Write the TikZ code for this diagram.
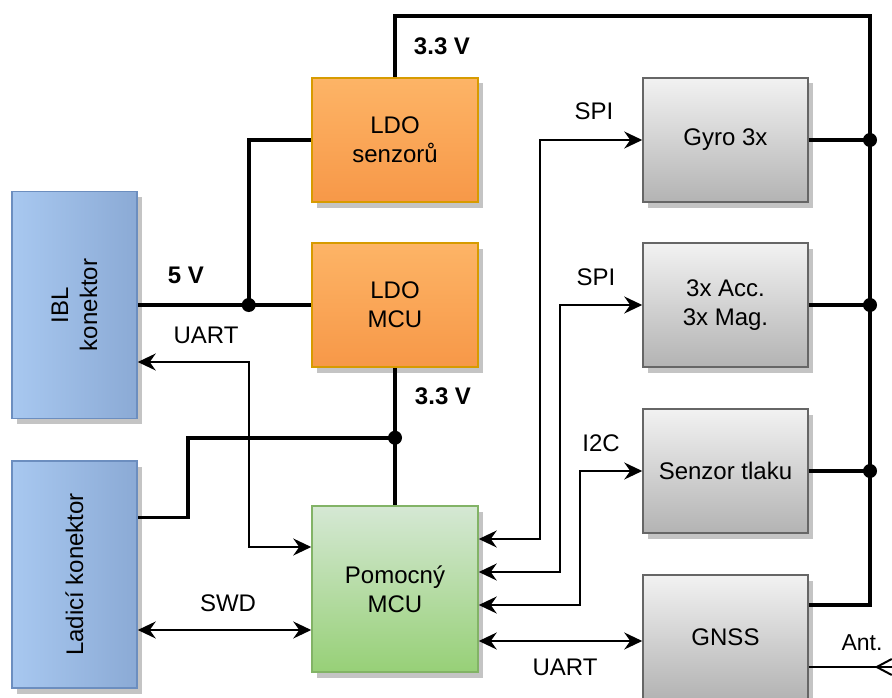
\documentclass[tikz,border=0pt]{standalone}
\usepackage{fontspec}
\setmainfont{Liberation Sans}
\usetikzlibrary{arrows.meta,shadows,calc}

\definecolor{shadowgrey}{HTML}{C4C4C4}
\definecolor{blueA}{HTML}{A8C8F0}
\definecolor{blueB}{HTML}{8BAAD5}
\definecolor{blueS}{HTML}{6C8EBF}
\definecolor{orangeA}{HTML}{FDB466}
\definecolor{orangeB}{HTML}{F79848}
\definecolor{orangeS}{HTML}{D79B00}
\definecolor{greenA}{HTML}{D5E8D4}
\definecolor{greenB}{HTML}{97D077}
\definecolor{greenS}{HTML}{82B366}
\definecolor{greyA}{HTML}{F2F2F2}
\definecolor{greyB}{HTML}{B3B3B3}
\definecolor{greyS}{HTML}{666666}

\begin{document}
\begin{tikzpicture}[x=1pt,y=-1pt,
  font=\fontsize{24}{29}\selectfont,
  >={Stealth[length=18pt,width=17pt,inset=6pt]},
  block/.style={draw, line width=1.5pt, inner sep=0pt, align=center,
    drop shadow={shadow xshift=4.5pt, shadow yshift=-5.5pt, fill=shadowgrey, opacity=1}},
  conn/.style={block, draw=blueS, left color=blueA, right color=blueB,
    minimum width=125pt, minimum height=227pt},
  ldo/.style={block, draw=orangeS, top color=orangeA, bottom color=orangeB,
    minimum width=166pt, minimum height=124pt},
  mcu/.style={block, draw=greenS, top color=greenA, bottom color=greenB,
    minimum width=166pt, minimum height=166pt},
  sensor/.style={block, draw=greyS, top color=greyA, bottom color=greyB,
    minimum width=165pt, minimum height=124pt},
  power/.style={draw, line width=3.5pt},
  sig/.style={draw, line width=2pt},
  dot/.style={fill=black},
  lbl/.style={anchor=base, inner sep=0pt},
]
\useasboundingbox (0,0) rectangle (892,698);
\clip (0,0) rectangle (892,698);

% blocks
\node[conn] (ibl) at (74.5,305) {};
\node[rotate=90, align=center] at (ibl.center) {IBL\\konektor};
\node[conn] (ladici) at (74.5,574.5) {};
\node[rotate=90] at (ladici.center) {Ladicí konektor};

\node[ldo] (ldos) at (395,140) {LDO\\senzorů};
\node[ldo] (ldom) at (395,305) {LDO\\MCU};
\node[mcu] (pm) at (395,589) {Pomocný\\MCU};

\node[sensor] (gyro) at (725.5,140) {Gyro 3x};
\node[sensor] (acc) at (725.5,305) {3x Acc.\\3x Mag.};
\node[sensor] (tlak) at (725.5,471) {Senzor tlaku};
\node[sensor] (gnss) at (725.5,637) {GNSS};

% power distribution
\coordinate (railtop) at (870,16);
\coordinate (gnssp) at ([yshift=32pt]gnss.east);
\draw[power] (ldos.north) |- (railtop) -- (railtop |- gnssp) -- (gnssp);
\draw[power] (gyro.east) -- (gyro.east -| railtop);
\draw[power] (acc.east) -- (acc.east -| railtop);
\draw[power] (tlak.east) -- (tlak.east -| railtop);
\fill[dot] (gyro.east -| railtop) circle (7pt);
\fill[dot] (acc.east -| railtop) circle (7pt);
\fill[dot] (tlak.east -| railtop) circle (7pt);

\coordinate (j5) at ([xshift=111pt]ibl.east);
\draw[power] (ibl.east) -- (ldom.west);
\draw[power] (j5) |- (ldos.west);
\fill[dot] (j5) circle (7pt);

\coordinate (j33) at ([yshift=-70pt]ldom.south);
\coordinate (jog) at ([xshift=-207pt]j33);
\draw[power] (ldom.south) -- (pm.north);
\draw[power] ([yshift=57pt]ladici.east) -| (jog) -- (j33);
\fill[dot] (j33) circle (7pt);

% signal buses
\coordinate (uartE) at ([yshift=42pt]pm.west);
\draw[sig,<->] ([yshift=-57pt]ibl.east) -| ([xshift=-62pt]uartE) -- (uartE);
\coordinate (swdR) at ([yshift=-41pt]pm.west);
\draw[sig,<->] (ladici.east |- swdR) -- (swdR);

\draw[sig,<->] ([yshift=50pt]pm.east) -| ([xshift=-102pt]gyro.west) -- (gyro.west);
\draw[sig,<->] ([yshift=17pt]pm.east) -| ([xshift=-82pt]acc.west) -- (acc.west);
\draw[sig,<->] ([yshift=-16pt]pm.east) -| ([xshift=-62pt]tlak.west) -- (tlak.west);
\coordinate (gu) at ([yshift=-52pt]pm.east);
\draw[sig,<->] (gu) -- (gnss.west |- gu);

% antenna
\coordinate (antL) at ([yshift=-30pt]gnss.east);
\coordinate (antR) at ([xshift=83pt]antL);
\draw[sig] (antL) -- (antR);
\draw[sig] ([yshift=8pt]antR) -- ([xshift=-15pt]antR) -- ([yshift=-8pt]antR);

% labels
\node[lbl, font=\fontsize{24}{29}\selectfont\bfseries] (l33a) at (442,55) {3.3 V};
\node[lbl, font=\fontsize{24}{29}\selectfont\bfseries] (l33b) at (443,404) {3.3 V};
\node[lbl, font=\fontsize{24}{29}\selectfont\bfseries] (l5) at (186,283) {5 V};
\node[lbl] (luart1) at (206,343) {UART};
\node[lbl] (lswd) at (228,611) {SWD};
\node[lbl] (luart2) at (565,675) {UART};
\node[lbl] (lspi1) at (594,120) {SPI};
\node[lbl] (lspi2) at (596,285) {SPI};
\node[lbl] (li2c) at (601,451) {I2C};
\node[lbl, font=\fontsize{23}{27}\selectfont] (lant) at (862,650) {Ant.};
\end{tikzpicture}
\end{document}
